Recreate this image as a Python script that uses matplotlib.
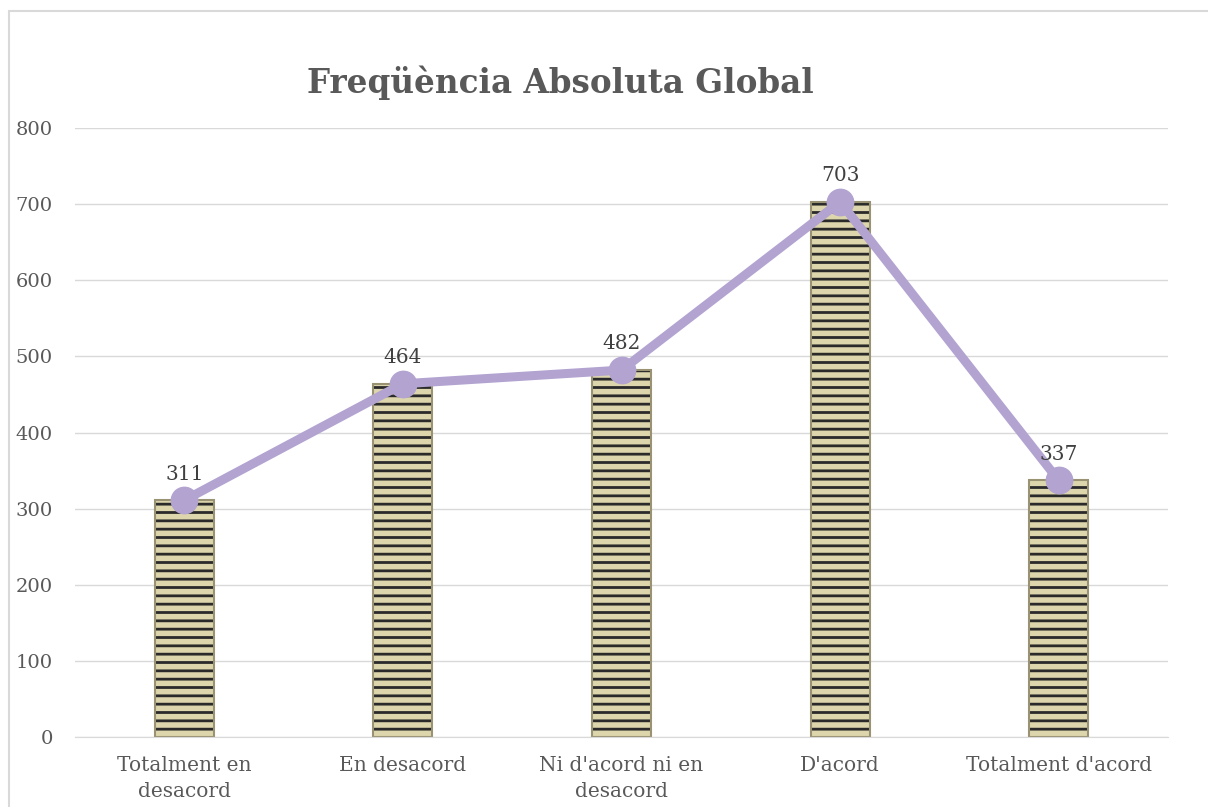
import matplotlib.pyplot as plt
from matplotlib.patches import Rectangle

categories = ["Totalment en\ndesacord", "En desacord", "Ni d'acord ni en\ndesacord", "D'acord", "Totalment d'acord"]
values = [311, 464, 482, 703, 337]
yticks = [0, 100, 200, 300, 400, 500, 600, 700, 800]

plt.rcParams['font.family'] = ['DejaVu Serif']
plt.rcParams['hatch.linewidth'] = 2.0

fig = plt.figure(figsize=(12.08, 8.07), dpi=100)
ax = fig.add_axes([75 / 1208, (807 - 737) / 807, 1093 / 1208, 609 / 807])

x = list(range(len(values)))
# striped fill, then a light outline on top
ax.bar(x, values, width=0.27, color='#ddd6ad', edgecolor='#2a2a2a', linewidth=0,
       hatch='--', zorder=2)
ax.bar(x, values, width=0.27, fill=False, edgecolor='#9a9373', linewidth=1.5, zorder=2)
ax.plot(x, values, color='#b2a3d1', linewidth=6.5, marker='o', markersize=19,
        solid_capstyle='round', zorder=3)

for xi, v in zip(x, values):
    ax.annotate(str(v), (xi, v), xytext=(0, 12), textcoords='offset points',
                ha='center', va='bottom', fontsize=14.5, color='#404040', zorder=4)

ax.set_xlim(-0.5, len(values) - 0.5)
ax.set_ylim(0, 800)
ax.set_yticks(yticks)
ax.set_xticks(x)
ax.set_xticklabels(categories, linespacing=1.45)
ax.tick_params(axis='both', length=0, labelsize=14.5, labelcolor='#595959')
ax.tick_params(axis='y', labelsize=14, pad=16)
ax.tick_params(axis='x', pad=14)
ax.grid(axis='y', color='#d9d9d9', linewidth=1, zorder=0)
for side in ['top', 'right', 'left']:
    ax.spines[side].set_visible(False)
ax.spines['bottom'].set_color('#d9d9d9')
ax.set_axisbelow(True)

fig.text(0.464, 0.898, "Freqüència Absoluta Global", ha='center', va='center',
         fontsize=23.5, fontweight='bold', color='#595959')

# outer frame
fig.patches.append(Rectangle((9 / 1208, -0.1), 1.2, 796 / 807 + 0.1, transform=fig.transFigure,
                             fill=False, edgecolor='#d9d9d9', linewidth=1.5))

fig.savefig('out.png', dpi=100)
